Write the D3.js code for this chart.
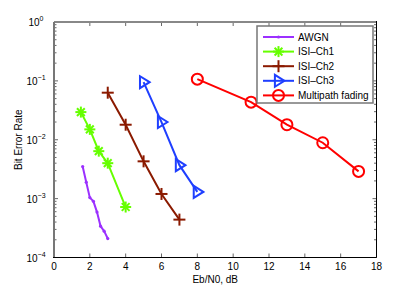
<!DOCTYPE html>
<html>
<head>
<meta charset="utf-8">
<script src="https://cdn.jsdelivr.net/npm/d3@7/dist/d3.min.js"></script>
<style>
  body { margin: 0; background: #fff; }
  text { font-family: "Liberation Sans", Arial, sans-serif; }
</style>
</head>
<body>
<svg id="chart" width="415" height="290"></svg>
<script>
const awgnX = [1.6, 1.8, 2.0, 2.2, 2.4, 2.6, 2.8, 3.0]
const awgnY = [3.5e-3, 1.9e-3, 1.04e-3, 9e-4, 5.9e-4, 3.4e-4, 2.8e-4, 2.1e-4]
const ch1X = [1.5, 2.0, 2.5, 3.0, 4.0]
const ch1Y = [2.95e-2, 1.5e-2, 6.4e-3, 4.0e-3, 7.2e-4]
const ch2X = [3, 4, 5, 6, 7]
const ch2Y = [6.3e-2, 1.8e-2, 4.3e-3, 1.2e-3, 4.4e-4]
const ch3X = [5, 6, 7, 8]
const ch3Y = [9.5e-2, 2.0e-2, 3.7e-3, 1.3e-3]
const mpX = [8, 11, 13, 15, 17]
const mpY = [1.07e-1, 4.35e-2, 1.8e-2, 8.9e-3, 2.9e-3]
const xTicks = [0, 2, 4, 6, 8, 10, 12, 14, 16, 18]
const yExps = [-4, -3, -2, -1, 0]

const series = [
  { name: 'AWGN', x: awgnX, y: awgnY, color: '#9b30ff', marker: 'dot' },
  { name: 'ISI\u2013Ch1', x: ch1X, y: ch1Y, color: '#66ff00', marker: 'star' },
  { name: 'ISI\u2013Ch2', x: ch2X, y: ch2Y, color: '#8b1a00', marker: 'plus' },
  { name: 'ISI\u2013Ch3', x: ch3X, y: ch3Y, color: '#1f3fff', marker: 'tri' },
  { name: 'Multipath fading', x: mpX, y: mpY, color: '#ff0000', marker: 'circle' },
]

const margin = { left: 54, top: 22, right: 38.5, bottom: 32.5 }
const width = 415, height = 290
const svg = d3.select('#chart')

const x = d3.scaleLinear().domain([0, 18]).range([margin.left, width - margin.right])
const y = d3.scaleLog().domain([1e-4, 1]).range([height - margin.bottom, margin.top])

const x0 = x.range()[0], x1 = x.range()[1]
const y0 = y.range()[0], y1 = y.range()[1]

// ticks
const g = svg.append('g').attr('stroke', '#000').attr('stroke-width', 0.6)
xTicks.forEach(t => {
  g.append('line').attr('x1', x(t)).attr('x2', x(t)).attr('y1', y0).attr('y2', y0 - 4)
  g.append('line').attr('x1', x(t)).attr('x2', x(t)).attr('y1', y1).attr('y2', y1 + 4)
})
yExps.forEach(e => {
  const v = Math.pow(10, e)
  g.append('line').attr('x1', x0).attr('x2', x0 + 4).attr('y1', y(v)).attr('y2', y(v))
  g.append('line').attr('x1', x1).attr('x2', x1 - 4).attr('y1', y(v)).attr('y2', y(v))
  if (e < 0) {
    for (let m = 2; m <= 9; m++) {
      const mv = m * v
      g.append('line').attr('x1', x0).attr('x2', x0 + 2.5).attr('y1', y(mv)).attr('y2', y(mv))
      g.append('line').attr('x1', x1).attr('x2', x1 - 2.5).attr('y1', y(mv)).attr('y2', y(mv))
    }
  }
})

// axes frame: top/left soft grey, right/bottom crisp black
const frame = svg.append('g')
frame.append('line').attr('x1', x0).attr('x2', x1).attr('y1', y1).attr('y2', y1)
  .attr('stroke', '#888').attr('stroke-width', 2)
frame.append('line').attr('x1', x0).attr('x2', x0).attr('y1', y1).attr('y2', y0)
  .attr('stroke', '#777').attr('stroke-width', 2)
frame.append('line').attr('x1', x1).attr('x2', x1).attr('y1', y1 - 1).attr('y2', y0)
  .attr('stroke', '#000').attr('stroke-width', 1)
frame.append('line').attr('x1', x0 - 1).attr('x2', x1).attr('y1', y0).attr('y2', y0)
  .attr('stroke', '#000').attr('stroke-width', 1)

// tick labels
svg.append('g').selectAll('text').data(xTicks).join('text')
  .attr('x', d => x(d)).attr('y', y0 + 12)
  .attr('text-anchor', 'middle').attr('font-size', 10).text(d => d)

const yl = svg.append('g').selectAll('text').data(yExps).join('text')
  .attr('x', x0 - 18).attr('y', d => y(Math.pow(10, d)) + 4)
  .attr('text-anchor', 'middle').attr('font-size', 10)
yl.append('tspan').text('10')
yl.append('tspan').attr('dy', -5).attr('font-size', 7).text(d => d === 0 ? '0' : '\u2212' + (-d))

svg.append('text').attr('x', (x0 + x1) / 2).attr('y', y0 + 25)
  .attr('text-anchor', 'middle').attr('font-size', 10).text('Eb/N0, dB')
svg.append('text')
  .attr('transform', `translate(22,${(y0 + y1) / 2}) rotate(-90)`)
  .attr('text-anchor', 'middle').attr('font-size', 10).text('Bit Error Rate')

const drawMarker = (sel, s, cx, cy) => {
  const c = s.color
  if (s.marker === 'dot') {
    sel.append('circle').attr('cx', cx).attr('cy', cy).attr('r', 1.6).attr('fill', c)
  } else if (s.marker === 'star') {
    const r = 5.5
    for (let k = 0; k < 4; k++) {
      const a = k * Math.PI / 4
      sel.append('line')
        .attr('x1', cx - r * Math.cos(a)).attr('x2', cx + r * Math.cos(a))
        .attr('y1', cy - r * Math.sin(a)).attr('y2', cy + r * Math.sin(a))
        .attr('stroke', c).attr('stroke-width', 2)
    }
  } else if (s.marker === 'plus') {
    const r = 6
    sel.append('line').attr('x1', cx - r).attr('x2', cx + r).attr('y1', cy).attr('y2', cy)
      .attr('stroke', c).attr('stroke-width', 2)
    sel.append('line').attr('x1', cx).attr('x2', cx).attr('y1', cy - r).attr('y2', cy + r)
      .attr('stroke', c).attr('stroke-width', 2)
  } else if (s.marker === 'tri') {
    const r = 6
    sel.append('path')
      .attr('d', `M${cx + r},${cy}L${cx - r * 0.6},${cy - r}L${cx - r * 0.6},${cy + r}Z`)
      .attr('fill', 'none').attr('stroke', c).attr('stroke-width', 2)
  } else if (s.marker === 'circle') {
    sel.append('circle').attr('cx', cx).attr('cy', cy).attr('r', 5.5)
      .attr('fill', 'none').attr('stroke', c).attr('stroke-width', 2)
  }
}

const line = d3.line().x(d => x(d[0])).y(d => y(d[1]))
series.forEach(s => {
  const pts = s.x.map((v, i) => [v, s.y[i]])
  const sg = svg.append('g')
  sg.append('path').attr('d', line(pts)).attr('fill', 'none')
    .attr('stroke', s.color).attr('stroke-width', 2)
  pts.forEach(p => drawMarker(sg, s, x(p[0]), y(p[1])))
})

// legend
const lx = 257, ly = 26, lw = 116, lh = 77
svg.append('rect').attr('x', lx).attr('y', ly).attr('width', lw).attr('height', lh)
  .attr('fill', '#fff').attr('stroke', '#777').attr('stroke-width', 1.5)
series.forEach((s, i) => {
  const cy = ly + 11 + i * 14.6
  const lg = svg.append('g')
  lg.append('line').attr('x1', lx + 6).attr('x2', lx + 37).attr('y1', cy).attr('y2', cy)
    .attr('stroke', s.color).attr('stroke-width', 2)
  drawMarker(lg, s, lx + 21.5, cy)
  lg.append('text').attr('x', lx + 41).attr('y', cy + 3.5).attr('font-size', 10).text(s.name)
})
</script>
</body>
</html>
